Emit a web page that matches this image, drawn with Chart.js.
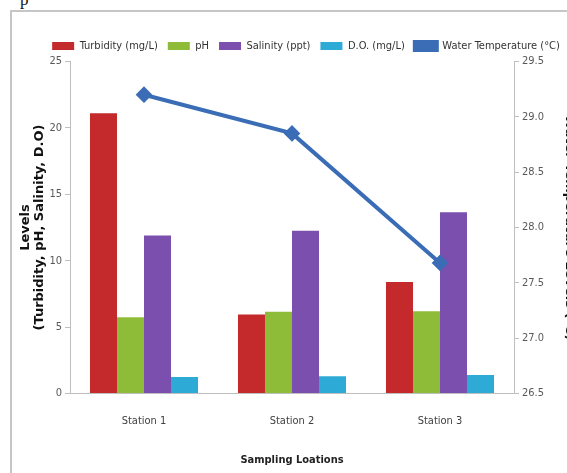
<!DOCTYPE html>
<html>
<head>
<meta charset="utf-8">
<script src="https://cdn.jsdelivr.net/npm/chart.js@4.4.0/dist/chart.umd.min.js"></script>
<style>
  html, body { margin: 0; padding: 0; background: #fff; overflow: hidden; width: 567px; height: 473px; }
  #wrap { position: relative; width: 567px; height: 473px; overflow: hidden; }
  .edge { position: absolute; background: #c6c6c6; }
  #edgeLeft { left: 10px; top: 10px; width: 2px; height: 463px; }
  #edgeTop { left: 10px; top: 10px; width: 557px; height: 2px; }
  #stray { position: absolute; left: 20px; top: -10px; font: 17px "Liberation Serif", serif; color: #111; }
  canvas { position: absolute; left: 0; top: 0; }
</style>
</head>
<body>
<div id="wrap">
  <div class="edge" id="edgeLeft"></div>
  <div class="edge" id="edgeTop"></div>
  <span id="stray">p</span>
  <canvas id="chart" width="612" height="473" style="width:612px;height:473px"></canvas>
</div>
<script>
const stations = ['Station 1', 'Station 2', 'Station 3'];
const turbidity = [21.1, 5.95, 8.4];
const ph = [5.75, 6.15, 6.2];
const salinity = [11.9, 12.25, 13.65];
const dissolvedOxygen = [1.25, 1.3, 1.4];
const waterTemp = [29.2, 28.85, 27.68];

const leftTicks = { min: 0, max: 25, step: 5 };
const rightTicks = { min: 26.5, max: 29.5, step: 0.5 };

const narrow = '"Liberation Sans Narrow", "DejaVu Sans Condensed", "Liberation Sans", sans-serif';
const axisGray = '#bfbfbf';
const labelGray = '#595959';
const titleFont = '"DejaVu Sans", sans-serif';

const ctx = document.getElementById('chart').getContext('2d');
new Chart(ctx, {
    data: {
        labels: stations,
        datasets: [
            {
                type: 'line',
                label: 'Water Temperature (\u00B0C)',
                data: waterTemp,
                yAxisID: 'y1',
                borderColor: '#3b6db6',
                backgroundColor: '#3b6db6',
                borderWidth: 4,
                pointStyle: 'rectRot',
                pointRadius: 5.5,
                pointBackgroundColor: '#3b6db6',
                pointBorderColor: '#3b6db6',
                tension: 0,
                order: 0
            },
            { type: 'bar', label: 'Turbidity (mg/L)', data: turbidity, backgroundColor: '#c4292b', yAxisID: 'y', order: 1 },
            { type: 'bar', label: 'pH', data: ph, backgroundColor: '#8fbc38', yAxisID: 'y', order: 1 },
            { type: 'bar', label: 'Salinity (ppt)', data: salinity, backgroundColor: '#7a4fae', yAxisID: 'y', order: 1 },
            { type: 'bar', label: 'D.O. (mg/L)', data: dissolvedOxygen, backgroundColor: '#2eaad6', yAxisID: 'y', order: 1 }
        ]
    },
    options: {
        responsive: false,
        animation: false,
        devicePixelRatio: 1,
        layout: { padding: { top: 30.5, left: 0, right: 0, bottom: 0 } },
        datasets: {
            bar: { barPercentage: 1, categoryPercentage: 0.73 }
        },
        plugins: {
            tooltip: { enabled: false },
            legend: {
                position: 'top',
                maxHeight: 33,
                labels: {
                    boxWidth: 22,
                    boxHeight: 8,
                    padding: 10,
                    color: '#333',
                    font: { family: narrow, size: 11 },
                    sort: (a, b) => (a.datasetIndex === 0 ? 1 : 0) - (b.datasetIndex === 0 ? 1 : 0)
                }
            }
        },
        scales: {
            x: {
                grid: { display: false, drawTicks: false },
                border: { display: true, color: axisGray },
                ticks: { color: '#404040', font: { family: narrow, size: 11 }, padding: 21 },
                title: {
                    display: true,
                    text: 'Sampling Loations',
                    color: '#222',
                    font: { family: narrow, size: 11, weight: 'bold', lineHeight: '13px' },
                    padding: { top: 0, bottom: 6.5 }
                },
                afterFit: (s) => { s.height = 79.5; }
            },
            y: {
                position: 'left',
                min: leftTicks.min,
                max: leftTicks.max,
                ticks: { stepSize: leftTicks.step, color: labelGray, font: { family: narrow, size: 11 }, padding: 3 },
                grid: { drawOnChartArea: false, drawTicks: true, tickLength: 5, color: axisGray },
                border: { display: true, color: axisGray },
                title: {
                    display: true,
                    text: ['Levels', '(Turbidity, pH, Salinity, D.O)'],
                    color: '#111',
                    font: { family: titleFont, size: 13, weight: 'bold', lineHeight: '14px' },
                    padding: { top: 19, bottom: 0 }
                },
                afterFit: (s) => { s.width = 70; }
            },
            y1: {
                position: 'right',
                min: rightTicks.min,
                max: rightTicks.max,
                ticks: { stepSize: rightTicks.step, color: labelGray, font: { family: narrow, size: 11 }, padding: 3 },
                grid: { drawOnChartArea: false, drawTicks: true, tickLength: 5, color: axisGray },
                border: { display: true, color: axisGray },
                title: {
                    display: true,
                    text: 'Water Temperature Levels (\u00B0C)',
                    color: '#111',
                    font: { family: titleFont, size: 13, weight: 'bold', lineHeight: '14px' },
                    padding: { top: 36, bottom: 0 }
                },
                afterFit: (s) => { s.width = 98; }
            }
        }
    }
});
</script>
</body>
</html>
